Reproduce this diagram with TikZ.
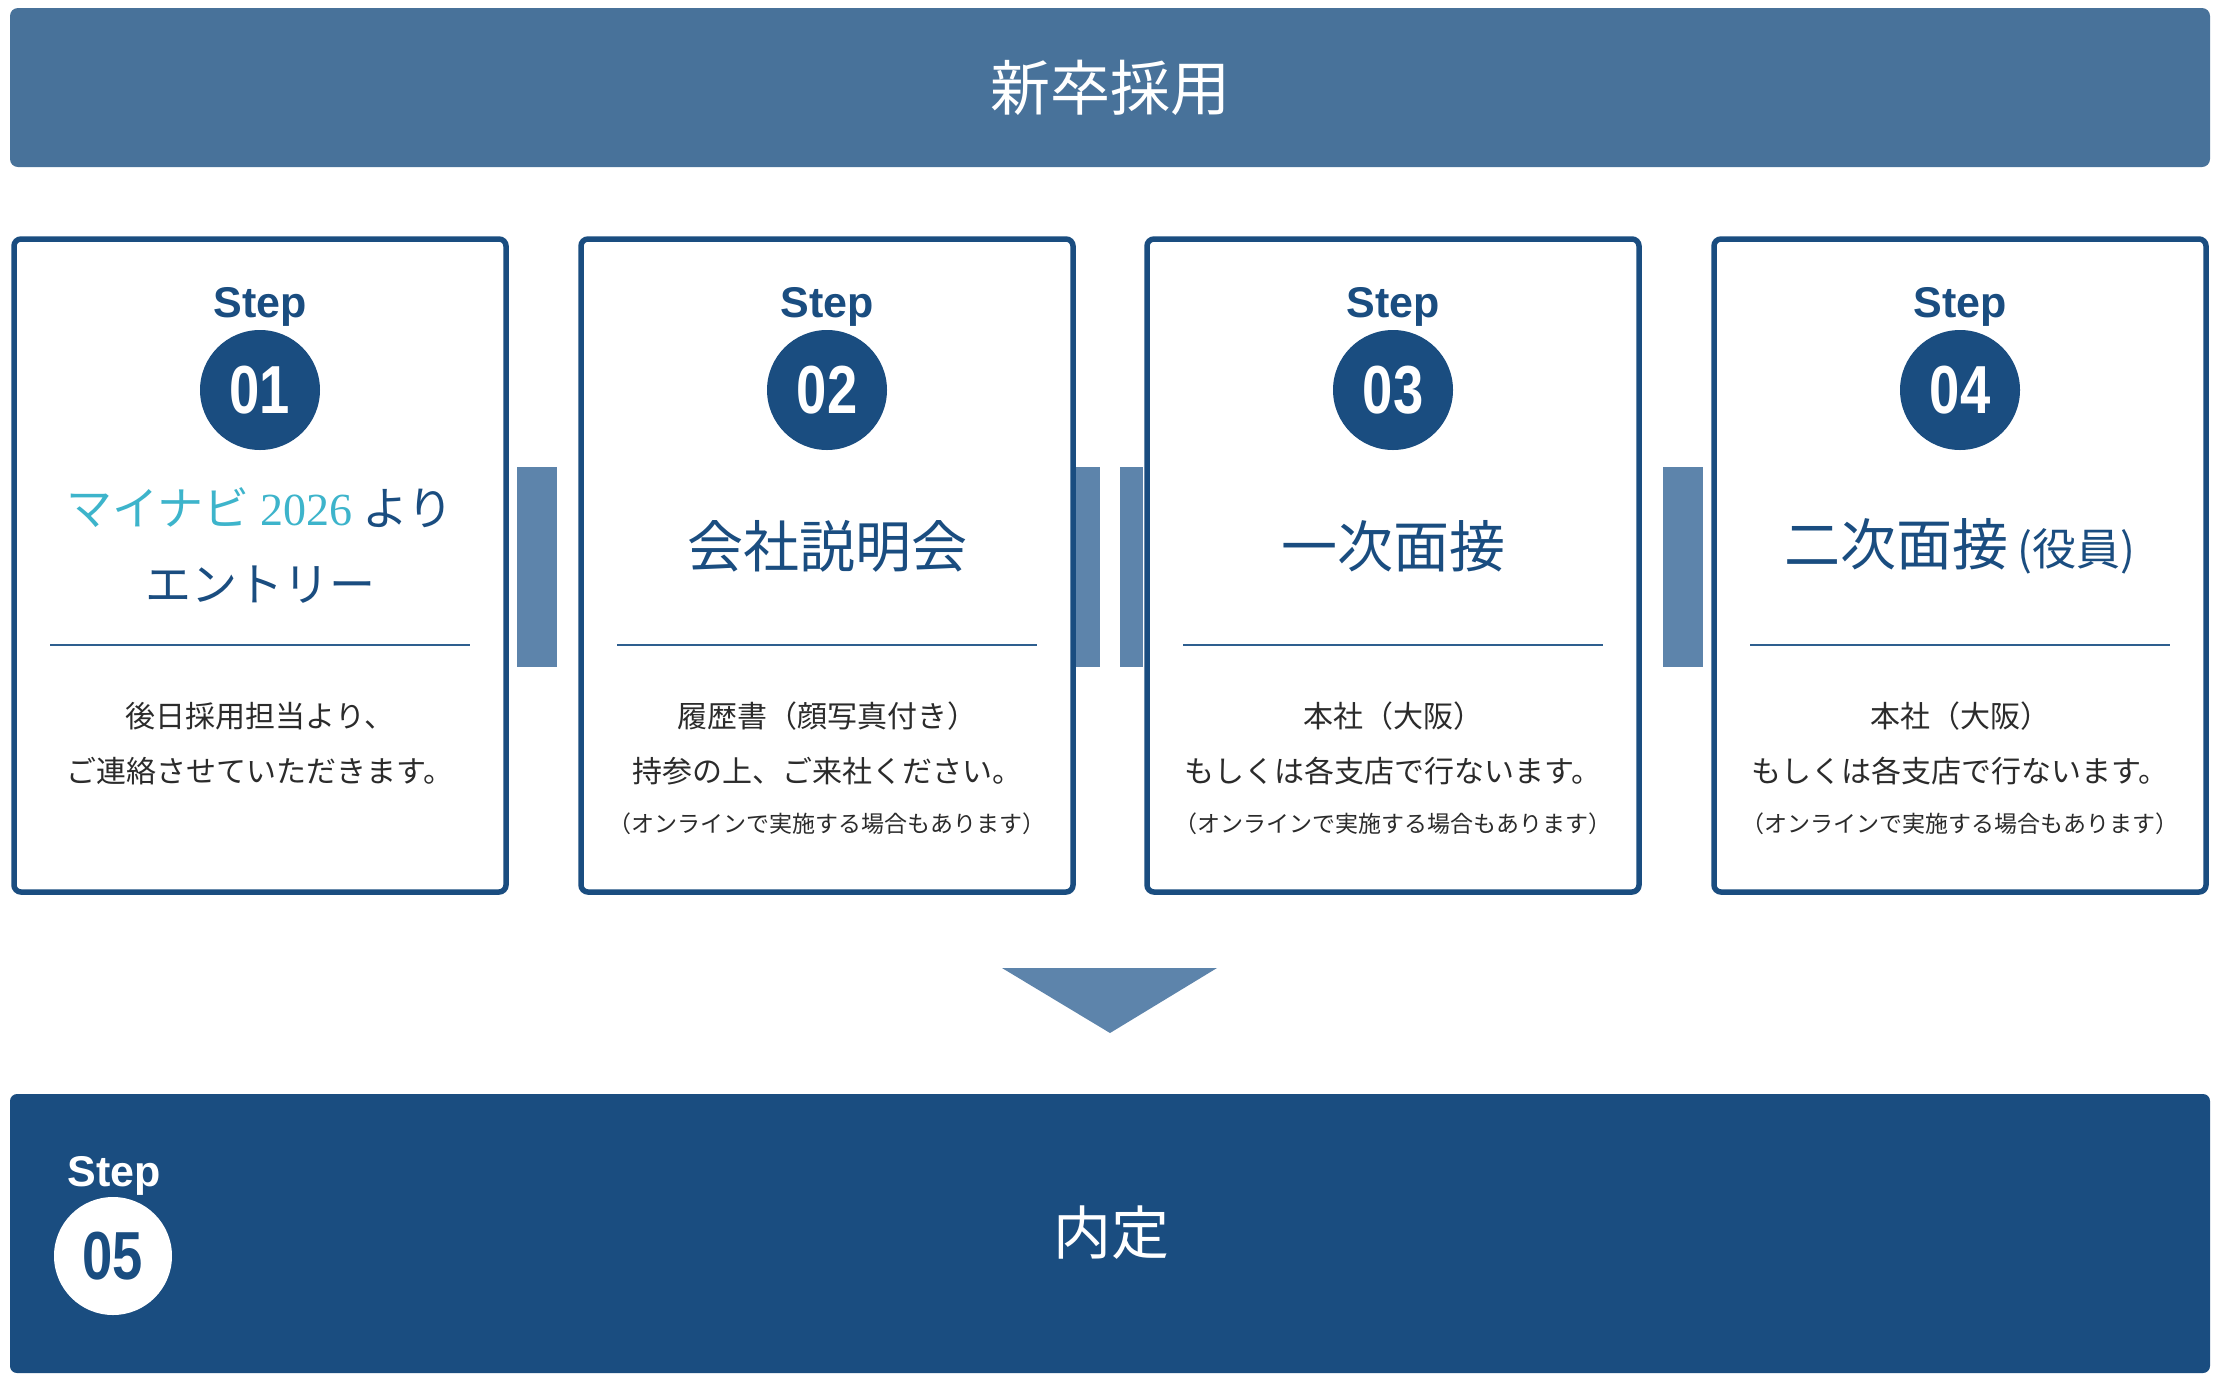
\documentclass[tikz,border=0pt]{standalone}
\usepackage{fontspec}
\newfontfamily\jp{Noto Sans CJK JP}
\newfontfamily\lsans{Liberation Sans}
\newfontfamily\lserif{Liberation Serif}
\definecolor{bannerc}{HTML}{48729A}
\definecolor{dark}{HTML}{1A4D80}
\definecolor{barc}{HTML}{5D84AB}
\definecolor{cyanc}{HTML}{3DB4CB}
\definecolor{bodyc}{HTML}{2B2B2B}
\definecolor{sepc}{HTML}{2E5F8F}
\newcommand\fsz[1]{\fontsize{#1}{#1}\selectfont}
\newcommand\numtxt[1]{\scalebox{0.8}[1]{#1}}
\begin{document}
\begin{tikzpicture}[x=1pt,y=-1pt,
  card/.style={draw=dark, line width=5.5pt, fill=white, rounded corners=7pt,
    minimum width=492pt, minimum height=653pt, inner sep=0pt},
  steplbl/.style={font=\lsans\bfseries\fsz{43}, text=dark, anchor=base, inner sep=0pt},
  numcirc/.style={circle, fill=dark, minimum size=120pt, inner sep=0pt, text=white, font=\lsans\bfseries\fsz{68}},
  ttl/.style={font=\jp\fsz{56}, text=dark, inner sep=0pt},
  body/.style={font=\jp\fsz{30}, text=bodyc, inner sep=0pt},
  note/.style={font=\jp\fsz{23}, text=bodyc, inner sep=0pt},
  sepline/.style={draw=sepc, line width=2.5pt}
]
\useasboundingbox (0,0) rectangle (2220,1390);
\fill[white] (0,0) rectangle (2220,1390);

% top banner
\node[fill=bannerc, rounded corners=8pt, minimum width=2200pt, minimum height=159pt, inner sep=0pt] (banner) at (1110,87.5) {};
\node[font=\jp\fsz{60}, text=white, inner sep=0pt] (bannertxt) at (1110,88) {新卒採用};

% bottom panel
\node[fill=dark, rounded corners=7pt, minimum width=2200pt, minimum height=279pt, inner sep=0pt] (final) at (1110,1233.5) {};

% connector bars
\fill[barc] (517,467) rectangle (557,667);
\fill[barc] (1076,467) rectangle (1100,667);
\fill[barc] (1120,467) rectangle (1143,667);
\fill[barc] (1663,467) rectangle (1703,667);

% cards
\node[card] (c1) at (260,565.5) {};
\node[card] (c2) at (827,565.5) {};
\node[card] (c3) at (1393,565.5) {};
\node[card] (c4) at (1960,565.5) {};

% separators and step labels
\foreach \c/\x in {1/260,2/827,3/1393,4/1960}{
  \draw[sepline] (\x-210,645) -- (\x+210,645);
  \node[steplbl] (s\c) at (\x,317) {Step};
}
\node[numcirc] (n1) at (260,390) {\numtxt{01}};
\node[numcirc] (n2) at (827,390) {\numtxt{02}};
\node[numcirc] (n3) at (1393,390) {\numtxt{03}};
\node[numcirc] (n4) at (1960,390) {\numtxt{04}};

% titles
\node[ttl, font=\jp\fsz{46}] (t1a) at (260,508) {{\color{cyanc}マイナビ {\lserif 2026}} より};
\node[ttl, font=\jp\fsz{46}] (t1b) at (260,585) {エントリー};
\node[ttl] (t2) at (827,546) {会社説明会};
\node[ttl] (t3) at (1393,546) {一次面接};
\node[ttl] (t4) at (1960,546) {二次面接\,{\fsz{44}(役員)}};

% body texts
\node[body] (b1a) at (260,716) {後日採用担当より、};
\node[body] (b1b) at (260,771) {ご連絡させていただきます。};

\node[body] (b2a) at (827,716) {履歴書（顔写真付き）};
\node[body] (b2b) at (827,771) {持参の上、ご来社ください。};
\node[note] (b2c) at (827,824) {（オンラインで実施する場合もあります）};

\node[body] (b3a) at (1393,716) {本社（大阪）};
\node[body] (b3b) at (1393,771) {もしくは各支店で行ないます。};
\node[note] (b3c) at (1393,824) {（オンラインで実施する場合もあります）};

\node[body] (b4a) at (1960,716) {本社（大阪）};
\node[body] (b4b) at (1960,771) {もしくは各支店で行ないます。};
\node[note] (b4c) at (1960,824) {（オンラインで実施する場合もあります）};

% arrow triangle
\coordinate (tl) at (1002,968);
\coordinate (tr) at (1217,968);
\coordinate (tb) at (1110,1033);
\fill[barc] (tl) -- (tr) -- (tb) -- cycle;

% step 05
\node[steplbl, text=white] (s5) at (114,1186) {Step};
\node[numcirc, fill=white, text=dark, minimum size=118pt] (n5) at (113,1256) {\numtxt{05}};
\node[font=\jp\fsz{58}, text=white, inner sep=0pt] (naitei) at (1111,1233) {内定};
\end{tikzpicture}
\end{document}
